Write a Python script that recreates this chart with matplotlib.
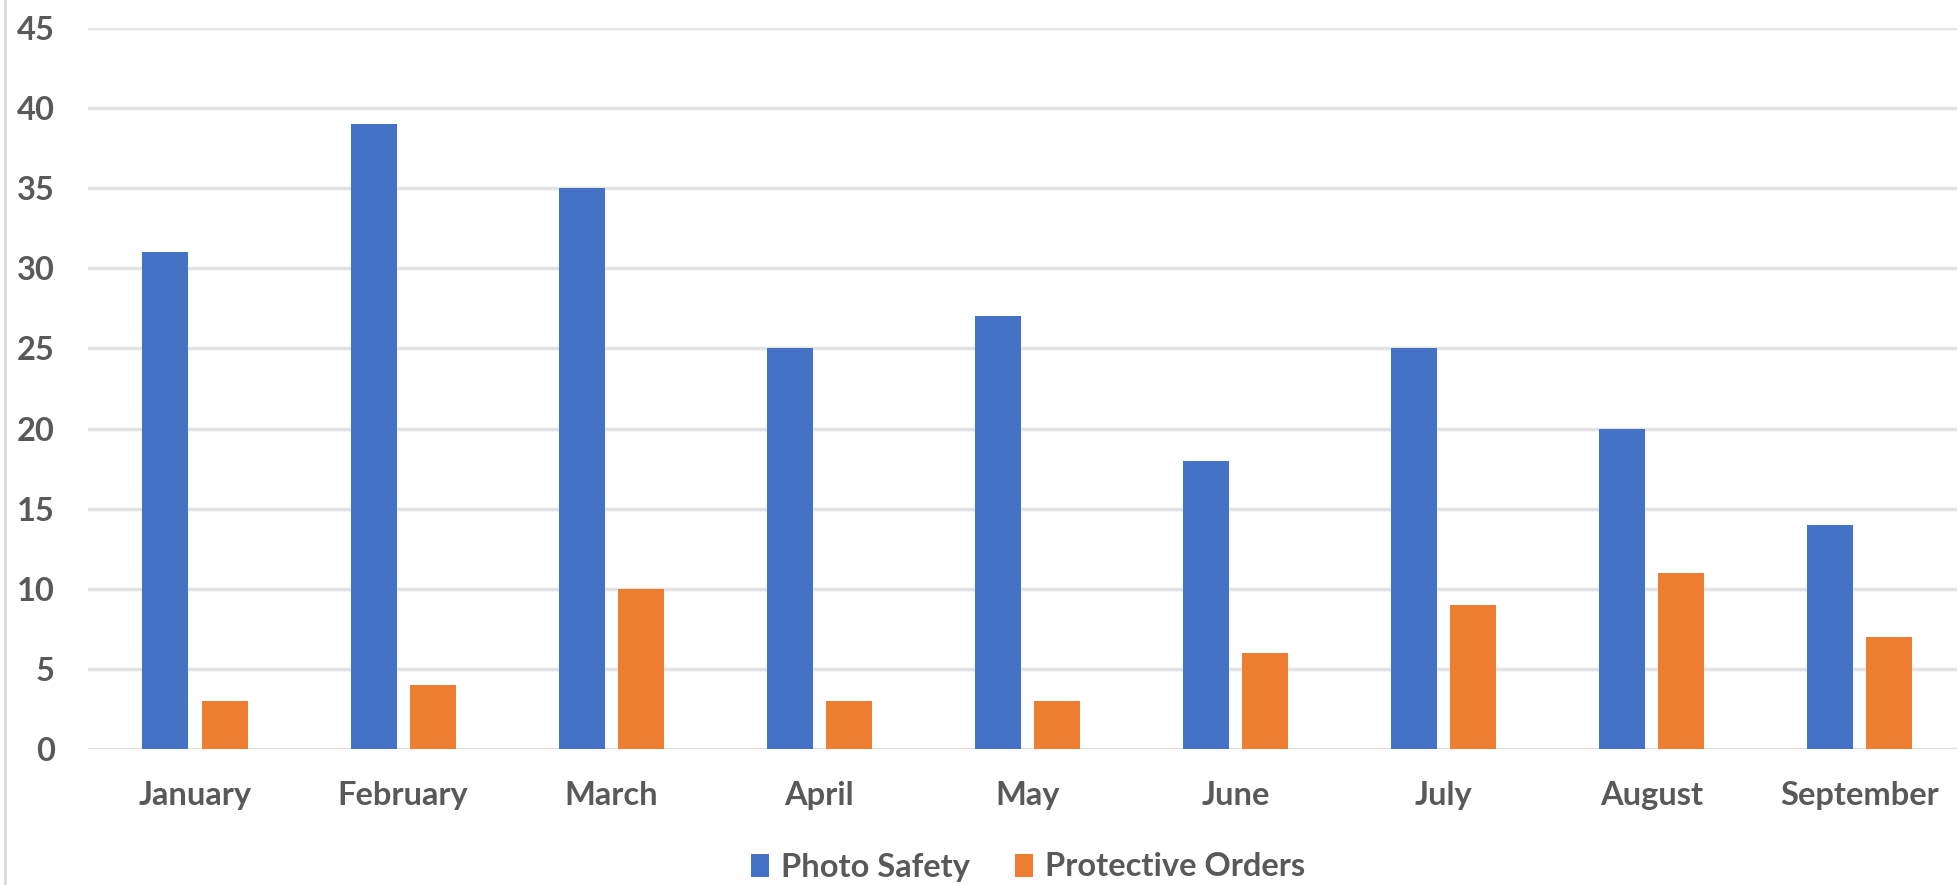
import matplotlib.pyplot as plt
import numpy as np
from matplotlib.lines import Line2D

months = ["January", "February", "March", "April", "May", "June",
          "July", "August", "September"]
photo_safety = [31, 39, 35, 25, 27, 18, 25, 20, 14]
protective_orders = [3, 4, 10, 3, 3, 6, 9, 11, 7]

plt.rcParams['font.family'] = ['Lato', 'DejaVu Sans']

fig = plt.figure(figsize=(19.57, 8.85), dpi=100)
ax = fig.add_axes([88/1957, (885-749)/885, 1 - 88/1957, (749-28)/885])

x = np.arange(len(months))
w = 0.221
ax.bar(x - 0.142, photo_safety, w, color="#4472C4", zorder=3, label="Photo Safety")
ax.bar(x + 0.142, protective_orders, w, color="#ED7D31", zorder=3, label="Protective Orders")

ax.set_xlim(-0.514, 8.467)
ax.set_ylim(0, 45)
ax.set_yticks(range(0, 46, 5))
ax.set_xticks(x)
ax.set_xticklabels(months)
ax.grid(axis="y", color="#E3E3E3", linewidth=2.5, zorder=0)
ax.set_axisbelow(True)
for s in ax.spines.values():
    s.set_visible(False)
ax.tick_params(length=0, labelsize=23.5, labelcolor="#595959")
ax.tick_params(axis="y", pad=24)
ax.tick_params(axis="x", pad=23)
for t in ax.get_xticklabels() + ax.get_yticklabels():
    t.set_fontweight("bold")

# chart border on the left
fig.add_artist(Line2D([5/1957, 5/1957], [0, 1], color="#D9D9D9", linewidth=2))

fig.legend(loc="center", bbox_to_anchor=(1028/1957, (885-867)/885), ncol=2,
           frameon=False, handlelength=0.55, handleheight=0.7, handletextpad=0.35,
           columnspacing=1.4, prop={"size": 23.5, "weight": "bold"},
           labelcolor="#595959")

plt.savefig("out.png", dpi=100)
